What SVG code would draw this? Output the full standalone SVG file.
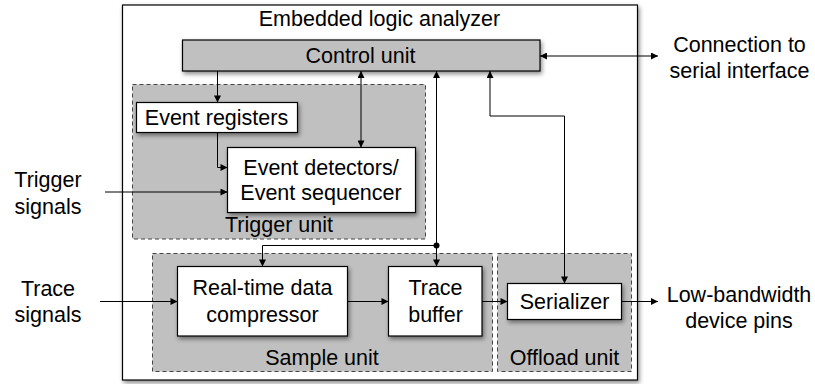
<svg xmlns="http://www.w3.org/2000/svg" width="815" height="384" viewBox="0 0 815 384">
<defs>
  <filter id="sh" x="-10%" y="-10%" width="130%" height="140%">
    <feDropShadow dx="1.5" dy="2.5" stdDeviation="2" flood-color="#000" flood-opacity="0.45"/>
  </filter>
  <marker id="ah" viewBox="0 0 10 10" refX="10" refY="5" markerWidth="9" markerHeight="7" markerUnits="userSpaceOnUse" orient="auto-start-reverse">
    <path d="M0,0 L10,5 L0,10 z" fill="#000"/>
  </marker>
</defs>
<style>
  text { font-family: "Liberation Sans", Arial, Helvetica, sans-serif; font-size: 21.5px; fill: #000; text-anchor: middle; }
  .box { fill: #fff; stroke: #000; stroke-width: 1.2; filter: url(#sh); }
  .gbox { fill: #c0c0c0; stroke: #000; stroke-width: 1.2; filter: url(#sh); }
  .unit { fill: #c0c0c0; stroke: #444; stroke-width: 1; stroke-dasharray: 4 3; }
  .c { fill: none; stroke: #000; stroke-width: 1; }
  .a { marker-end: url(#ah); }
  .s { marker-start: url(#ah); }
</style>

<g id="analyzer">
  <rect class="box" x="122.5" y="5" width="515" height="375"/>
  <text x="379.5" y="26">Embedded logic analyzer</text>
</g>

<g id="trigger-unit">
  <rect class="unit" x="132.5" y="84.5" width="293" height="154.5"/>
  <text x="279" y="232">Trigger unit</text>
</g>

<g id="sample-unit">
  <rect class="unit" x="152.5" y="253.5" width="340" height="118"/>
  <text x="322" y="365">Sample unit</text>
</g>

<g id="offload-unit">
  <rect class="unit" x="497.5" y="253.5" width="134" height="118"/>
  <text x="564.5" y="365">Offload unit</text>
</g>

<g id="control-unit">
  <rect class="gbox" x="182.5" y="40" width="357.5" height="31"/>
  <text x="360.5" y="63">Control unit</text>
</g>

<g id="event-registers">
  <rect class="box" x="136.5" y="102.5" width="161" height="30"/>
  <text x="216.5" y="125">Event registers</text>
</g>

<g id="event-detectors">
  <rect class="box" x="227.5" y="147.5" width="188" height="65"/>
  <text x="321" y="175">Event detectors/</text>
  <text x="321" y="200">Event sequencer</text>
</g>

<g id="compressor">
  <rect class="box" x="177.5" y="266.5" width="170" height="69.5"/>
  <text x="262.5" y="295">Real-time data</text>
  <text x="262.5" y="321.5">compressor</text>
</g>

<g id="trace-buffer">
  <rect class="box" x="388.5" y="266.5" width="93.5" height="69.5"/>
  <text x="435.5" y="295">Trace</text>
  <text x="435.5" y="321.5">buffer</text>
</g>

<g id="serializer">
  <rect class="box" x="507.5" y="283.5" width="114" height="36"/>
  <text x="564.5" y="308.5">Serializer</text>
</g>

<g id="label-trigger">
  <text x="48" y="187">Trigger</text>
  <text x="48" y="213.5">signals</text>
</g>
<g id="label-trace">
  <text x="48" y="295.5">Trace</text>
  <text x="48" y="322">signals</text>
</g>
<g id="label-serial">
  <text x="739.5" y="52">Connection to</text>
  <text x="739.5" y="77.5">serial interface</text>
</g>
<g id="label-pins">
  <text x="739" y="302">Low-bandwidth</text>
  <text x="739" y="328">device pins</text>
</g>

<g id="connectors">
  <path class="c a" d="M217.5,71 V102.5"/>
  <path class="c a s" d="M361,71 V147.5"/>
  <path class="c a" d="M217.5,132.5 V167.5 H227.5"/>
  <path class="c a" d="M105,192 H227.5"/>
  <path class="c s" d="M436.5,71 V245.5"/>
  <path class="c a" d="M436.5,245.5 H262.5 V266.5"/>
  <path class="c a" d="M436.5,245.5 V266.5"/>
  <circle cx="436.5" cy="245.5" r="3" fill="#000"/>
  <path class="c a s" d="M490,71 V116 H564.5 V283.5"/>
  <path class="c a s" d="M540,56 H658"/>
  <path class="c a" d="M100,301.5 H177.5"/>
  <path class="c a" d="M347.5,301.5 H388.5"/>
  <path class="c a" d="M482,301.5 H507.5"/>
  <path class="c a" d="M621.5,301.5 H658"/>
</g>
</svg>
